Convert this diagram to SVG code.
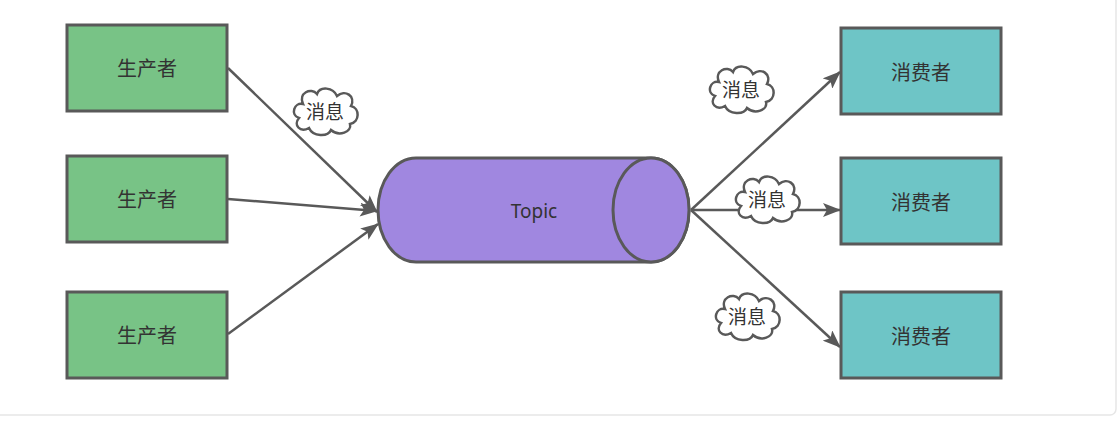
<svg xmlns="http://www.w3.org/2000/svg" xmlns:xlink="http://www.w3.org/1999/xlink" width="1117" height="422" viewBox="0 0 1117 422">
<style>
.frame{fill:#ffffff;stroke:#e6e6e6;stroke-width:1.5}
.prod{fill:#78c386;stroke:#595959;stroke-width:3}
.cons{fill:#6ec5c6;stroke:#595959;stroke-width:3}
.topic{fill:#a087e0;stroke:#595959;stroke-width:3}
.edge{fill:none;stroke:#595959;stroke-width:2.5}
.cloud{fill:#ffffff;stroke:#595959;stroke-width:2.5}
.lbl{font-family:"Noto Sans","Noto Sans CJK SC",sans-serif;font-size:20px;fill:#333333;text-anchor:middle;dominant-baseline:central}
.clbl{font-family:"Noto Sans","Noto Sans CJK SC",sans-serif;font-size:19px;fill:#333333;text-anchor:middle;dominant-baseline:central}
</style>
<defs>
<marker id="arr" markerUnits="userSpaceOnUse" markerWidth="18" markerHeight="14" viewBox="0 0 18 14" refX="17" refY="7" orient="auto">
<path d="M0,0 L18,7 L0,14 L4,7 Z" fill="#595959"/>
</marker>
<path id="cloudShape" d="M -22,-8 C -31,-10 -35,3 -26,6 C -32,13 -25,21 -16,16 C -12,25 3,25 6,18 C 14,25 27,20 25,12 C 35,10 35,-4 26,-6 C 31,-16 20,-23 12,-16 C 8,-25 -5,-26 -8,-18 C -14,-25 -27,-19 -22,-8 Z"/>
</defs>
<rect class="frame" x="-10" y="-10" width="1126" height="425" rx="6"/>
<g id="connectors">
<line class="edge" x1="228" y1="68" x2="377" y2="212" marker-end="url(#arr)"/>
<line class="edge" x1="228" y1="199" x2="377" y2="211" marker-end="url(#arr)"/>
<line class="edge" x1="228" y1="334" x2="378" y2="224" marker-end="url(#arr)"/>
<line class="edge" x1="691" y1="210" x2="840" y2="72" marker-end="url(#arr)"/>
<line class="edge" x1="691" y1="210" x2="840" y2="210" marker-end="url(#arr)"/>
<line class="edge" x1="691" y1="210" x2="840" y2="347" marker-end="url(#arr)"/>
</g>
<g id="producer1"><rect class="prod" x="67" y="25" width="160" height="86"/><text class="lbl" x="147" y="68">生产者</text></g>
<g id="producer2"><rect class="prod" x="67" y="156" width="160" height="86"/><text class="lbl" x="147" y="199">生产者</text></g>
<g id="producer3"><rect class="prod" x="67" y="292" width="160" height="86"/><text class="lbl" x="147" y="335">生产者</text></g>
<g id="topic">
<path class="topic" d="M 416,158 L 651,158 A 38 52 0 0 1 651,262 L 416,262 A 38 52 0 0 1 416,158 Z"/>
<ellipse class="topic" cx="651" cy="210" rx="38" ry="52"/>
<text class="lbl" x="534" y="211" style="font-size:19px">Topic</text>
</g>
<g id="consumer1"><rect class="cons" x="841" y="28" width="160" height="86"/><text class="lbl" x="921" y="72">消费者</text></g>
<g id="consumer2"><rect class="cons" x="841" y="158" width="160" height="86"/><text class="lbl" x="921" y="202">消费者</text></g>
<g id="consumer3"><rect class="cons" x="841" y="292" width="160" height="86"/><text class="lbl" x="921" y="336">消费者</text></g>
<g id="msg1"><use xlink:href="#cloudShape" class="cloud" transform="translate(325,112)"/><text class="clbl" x="325" y="112">消息</text></g>
<g id="msg2"><use xlink:href="#cloudShape" class="cloud" transform="translate(741,90)"/><text class="clbl" x="741" y="90">消息</text></g>
<g id="msg3"><use xlink:href="#cloudShape" class="cloud" transform="translate(767,200)"/><text class="clbl" x="767" y="200">消息</text></g>
<g id="msg4"><use xlink:href="#cloudShape" class="cloud" transform="translate(747,317)"/><text class="clbl" x="747" y="317">消息</text></g>
</svg>
